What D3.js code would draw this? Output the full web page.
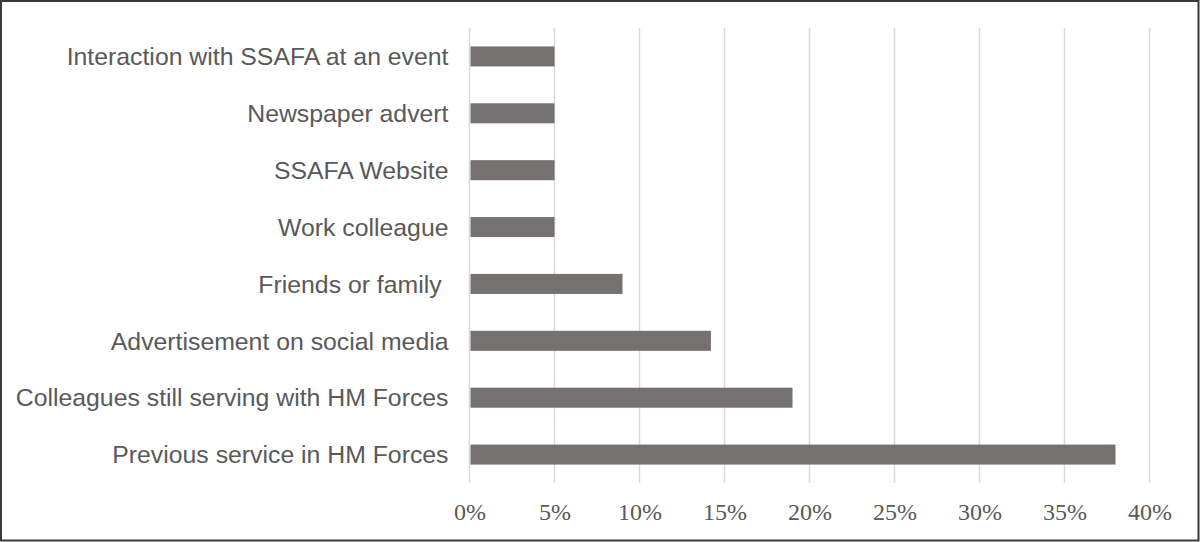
<!DOCTYPE html>
<html>
<head>
<meta charset="utf-8">
<script src="https://cdn.jsdelivr.net/npm/d3@7"></script>
<style>
  body { margin: 0; background: #fff; }
</style>
</head>
<body>
<script>
const width = 1200
const height = 542

// categories top to bottom, values in percent
const categories = [
  "Interaction with SSAFA at an event",
  "Newspaper advert",
  "SSAFA Website",
  "Work colleague",
  "Friends or family ",
  "Advertisement on social media",
  "Colleagues still serving with HM Forces",
  "Previous service in HM Forces"
]
const values = [5, 5, 5, 5, 9, 14.2, 19, 38]
const ticks = [0, 5, 10, 15, 20, 25, 30, 35, 40]

const plotLeft = 469.5, plotRight = 1149.5, plotTop = 28, plotBottom = 483

const svg = d3.select('body').append('svg')
    .attr('width', width)
    .attr('height', height)

// frame
svg.append('rect')
    .attr('x', 1).attr('y', 1)
    .attr('width', width - 2.5).attr('height', height - 2.5)
    .attr('fill', 'none')
    .attr('stroke', '#3a3a3a')
    .attr('stroke-width', 2)

const xScale = d3.scaleLinear()
    .domain([0, 40])
    .range([plotLeft, plotRight])

const yScale = d3.scaleBand()
    .domain(categories)
    .range([plotTop, plotBottom])
    .paddingInner(0.648)
    .paddingOuter(0.324)

// gridlines
svg.append('g')
    .selectAll('line')
    .data(ticks)
    .join('line')
    .attr('x1', d => xScale(d))
    .attr('x2', d => xScale(d))
    .attr('y1', plotTop)
    .attr('y2', plotBottom)
    .attr('stroke', '#d9d9d9')
    .attr('stroke-width', 1.5)

// bars
svg.append('g')
    .selectAll('rect')
    .data(values)
    .join('rect')
    .attr('x', xScale(0) + 1)
    .attr('y', (d, i) => yScale(categories[i]))
    .attr('width', d => xScale(d) - xScale(0) - 1)
    .attr('height', yScale.bandwidth())
    .attr('fill', '#767171')

// x axis labels
const xAxis = d3.axisBottom(xScale)
    .tickValues(ticks)
    .tickSize(0)
    .tickPadding(0)
    .tickFormat(d => d + '%')

svg.append('g')
    .attr('transform', 'translate(0,' + 503 + ')')
    .call(xAxis)
    .call(g => g.select('.domain').remove())
    .selectAll('text')
    .attr('dy', '0.71em')
    .attr('font-family', '"Liberation Serif", "Times New Roman", serif')
    .attr('font-size', 24)
    .attr('fill', '#595959')

// category labels (keep trailing space, as in the source)
const yAxis = d3.axisLeft(yScale)
    .tickSize(0)
    .tickPadding(21)

svg.append('g')
    .attr('transform', 'translate(' + plotLeft + ',0)')
    .call(yAxis)
    .call(g => g.select('.domain').remove())
    .selectAll('text')
    .style('white-space', 'pre')
    .attr('font-family', '"Liberation Sans", Arial, sans-serif')
    .attr('font-size', 24.8)
    .attr('fill', '#595959')
    .attr('dy', '0.35em')
</script>
</body>
</html>
